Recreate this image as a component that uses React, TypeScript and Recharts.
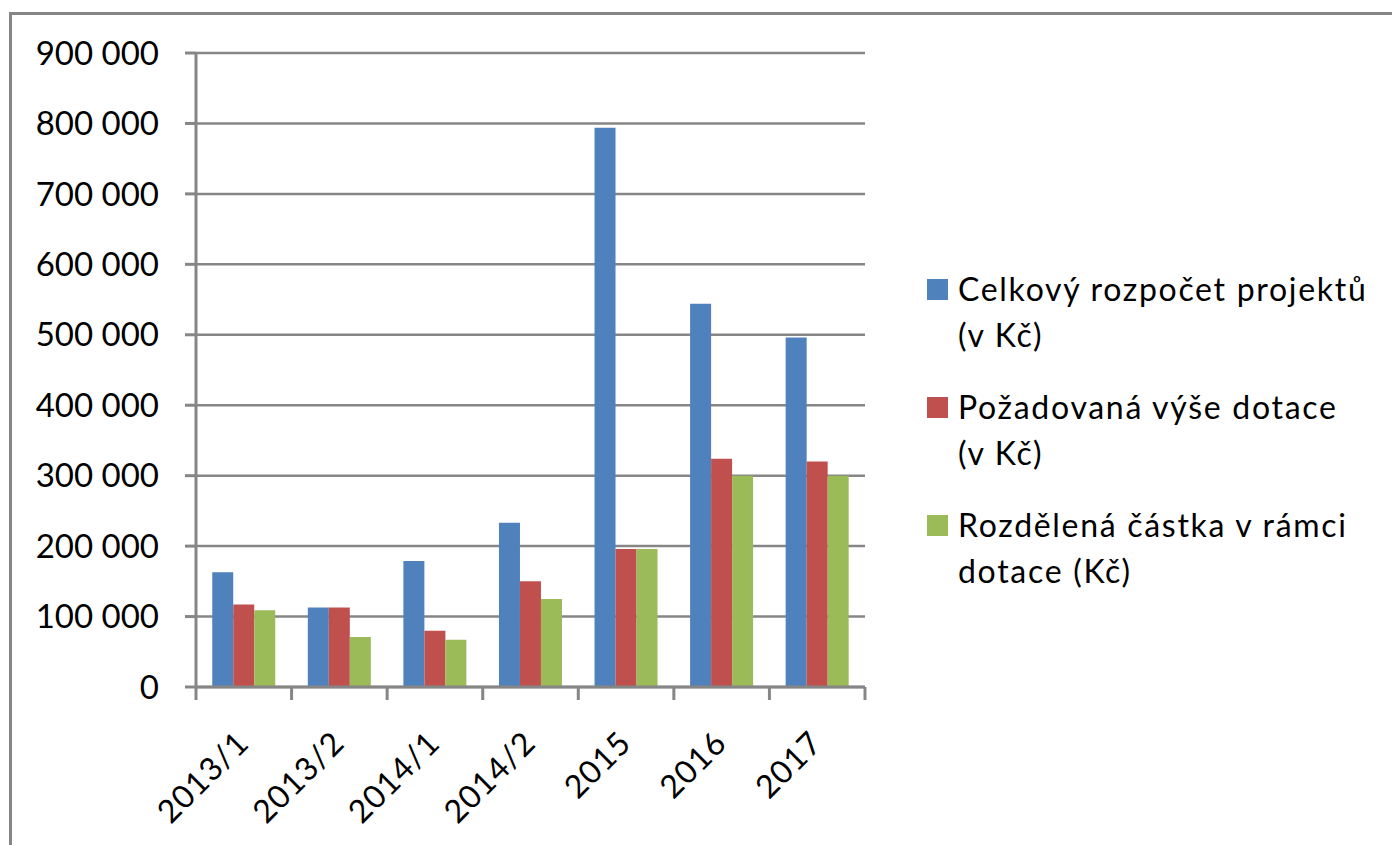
import { BarChart, Bar, XAxis, YAxis, CartesianGrid, Legend } from 'recharts'

const categories = ['2013/1', '2013/2', '2014/1', '2014/2', '2015', '2016', '2017']
const totalBudget = [163000, 113000, 179000, 233000, 794000, 544000, 496000]
const requested = [117000, 113000, 80000, 150000, 196000, 324000, 320000]
const distributed = [109000, 71000, 67000, 125000, 196000, 300000, 300000]
const seriesNames = [
  'Celkový rozpočet projektů\n(v Kč)',
  'Požadovaná výše dotace\n(v Kč)',
  'Rozdělená částka v rámci\ndotace (Kč)',
]
const yTicks = [0, 100000, 200000, 300000, 400000, 500000, 600000, 700000, 800000, 900000]

const data = categories.map((name, i) => ({
  name,
  total: totalBudget[i],
  requested: requested[i],
  distributed: distributed[i],
}))

const GRAY = '#868686'
const FONT = 'Lato, "Open Sans", sans-serif'

const formatThousands = (v: number) => String(v).replace(/\B(?=(\d{3})+(?!\d))/g, ' ')

// Excel-style category axis: tick marks sit between categories, labels rotated 45°
function CategoryTick(props: any) {
  const { x, y, payload, index, visibleTicksCount } = props
  const half = payload.offset ?? 0
  const tx = x + 7
  const ty = y + 58
  return (
    <g>
      <line x1={x - half} x2={x - half} y1={y} y2={y + 13} stroke={GRAY} strokeWidth={3} />
      {index === visibleTicksCount - 1 && (
        <line x1={x + half} x2={x + half} y1={y} y2={y + 13} stroke={GRAY} strokeWidth={3} />
      )}
      <text
        x={tx}
        y={ty}
        transform={`rotate(-45 ${tx} ${ty})`}
        textAnchor="end"
        fontSize={32}
        letterSpacing={1}
        fontFamily={FONT}
        fill="#000"
      >
        {payload.value}
      </text>
    </g>
  )
}

function LegendBox({ payload }: any) {
  return (
    <div style={{ fontFamily: FONT, fontSize: 32, lineHeight: '46px', letterSpacing: 1.7, color: '#000' }}>
      {(payload || []).map((p: any) => (
        <div key={p.value} style={{ display: 'flex', marginBottom: 26 }}>
          <div style={{ width: 21, height: 21, background: p.color, marginTop: 13, marginRight: 10, flexShrink: 0 }} />
          <div style={{ whiteSpace: 'pre-line' }}>{p.value}</div>
        </div>
      ))}
    </div>
  )
}

export default function App() {
  return (
    <div style={{ position: 'fixed', left: 0, top: 0, width: 1392, height: 845, overflow: 'hidden', background: '#fff' }}>
      <div
        style={{
          position: 'absolute',
          left: 9,
          top: 12,
          width: 1420,
          height: 900,
          border: `3px solid ${GRAY}`,
          boxSizing: 'border-box',
        }}
      />
      <div style={{ position: 'absolute', left: 0, top: 0 }}>
        <BarChart
          width={1392}
          height={845}
          data={data}
          margin={{ top: 53, right: 527, bottom: 58, left: 0 }}
          barGap={0}
          barCategoryGap="17%"
        >
          <CartesianGrid vertical={false} stroke={GRAY} strokeWidth={2.5} />
          <XAxis
            dataKey="name"
            interval={0}
            height={100}
            tickLine={false}
            tickSize={0}
            tickMargin={0}
            axisLine={{ stroke: GRAY, strokeWidth: 3 }}
            tick={<CategoryTick />}
          />
          <YAxis
            width={196}
            domain={[0, 900000]}
            ticks={yTicks}
            interval={0}
            tickFormatter={formatThousands}
            tickSize={11}
            tickMargin={26}
            tickLine={{ stroke: GRAY, strokeWidth: 3 }}
            axisLine={{ stroke: GRAY, strokeWidth: 3 }}
            tick={{ fill: '#000', fontSize: 33, fontFamily: FONT }}
          />
          <Legend
            layout="vertical"
            align="center"
            verticalAlign="middle"
            wrapperStyle={{ left: 927, top: 266, width: 465 }}
            content={<LegendBox />}
          />
          <Bar dataKey="total" name={seriesNames[0]} fill="#4F81BD" isAnimationActive={false} />
          <Bar dataKey="requested" name={seriesNames[1]} fill="#C0504D" isAnimationActive={false} />
          <Bar dataKey="distributed" name={seriesNames[2]} fill="#9BBB59" isAnimationActive={false} />
        </BarChart>
      </div>
    </div>
  )
}
